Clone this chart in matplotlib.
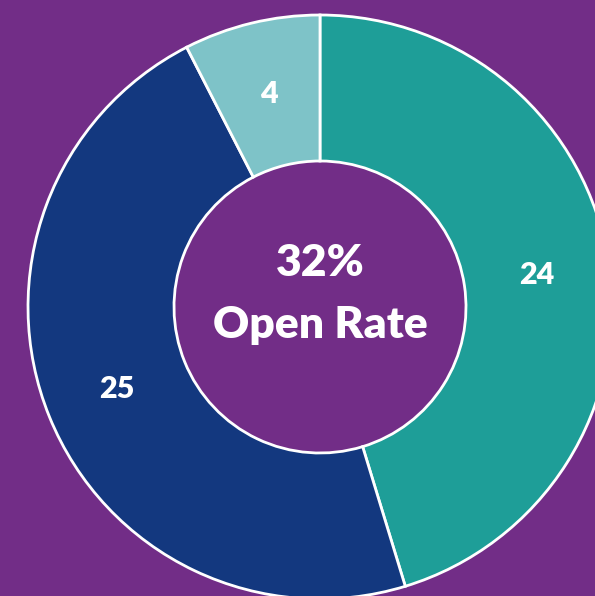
import matplotlib.pyplot as plt

# === Données ===
values = [24, 25, 4]
labels = ['24', '25', '4']
colors = ['#1E9E98', '#13387F', '#7EC3C8']
center_lines = ['32%', 'Open Rate']

bg = '#722D87'

fig = plt.figure(figsize=(5.95, 5.96), dpi=100, facecolor=bg)
ax = fig.add_axes([0, 0, 1, 1])
ax.set_facecolor(bg)

# === Donut (coordonnées en pixels, y vers le haut) ===
cx, cy, R = 320, 596 - 307, 292
wedges, texts = ax.pie(values, colors=colors, startangle=90, counterclock=False,
                       center=(cx, cy), radius=R, labels=labels, labeldistance=0.75,
                       wedgeprops=dict(width=R / 2, edgecolor='white', linewidth=2),
                       textprops=dict(color='white', fontsize=22, fontweight='heavy',
                                      family='Lato', ha='center', va='center'))

ax.text(cx, 596 - 263, center_lines[0], color='white', fontsize=32, fontweight='heavy',
        family='Lato', ha='center', va='center')
ax.text(cx, 596 - 325, center_lines[1], color='white', fontsize=32, fontweight='heavy',
        family='Lato', ha='center', va='center')

ax.set_xlim(0, 595)
ax.set_ylim(0, 596)
ax.set_aspect('auto')
ax.axis('off')

fig.savefig('out.png', dpi=100, facecolor=bg)
